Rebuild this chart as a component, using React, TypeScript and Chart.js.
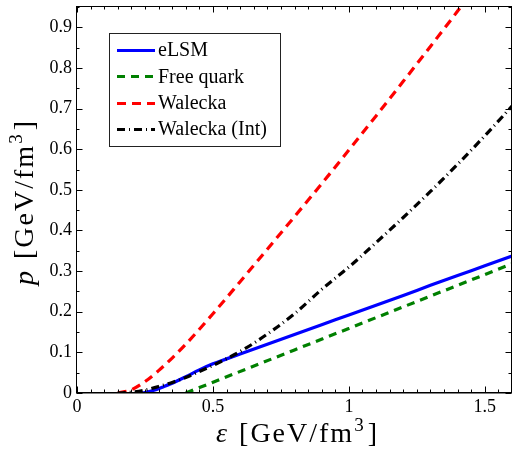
import React, { useEffect, useRef } from "react";
import Chart from "chart.js/auto";

// ---- data ----
const ELSM_X = [0.24, 0.28, 0.32, 0.36, 0.4, 0.45, 0.5, 0.55, 0.6, 0.7, 0.8, 0.9, 1.0, 1.1, 1.2, 1.3, 1.4, 1.5, 1.6];
const ELSM_Y = [0, 0.006, 0.016, 0.027, 0.04, 0.057, 0.072, 0.084, 0.096, 0.12, 0.144, 0.168, 0.192, 0.216, 0.24, 0.265, 0.289, 0.313, 0.337];

const FREE_X = [0.4, 0.8, 1.2, 1.6];
const FREE_Y = [0, 0.106, 0.212, 0.318];

const WALECKA_X = [0.15, 0.2, 0.25, 0.3, 0.35, 0.4, 0.5, 0.6, 0.7, 0.8, 0.9, 1.0, 1.1, 1.2, 1.3, 1.4, 1.45];
const WALECKA_Y = [0, 0.008, 0.028, 0.055, 0.086, 0.12, 0.195, 0.274, 0.354, 0.434, 0.515, 0.598, 0.682, 0.767, 0.853, 0.94, 0.985];

const INT_X = [0.15, 0.2, 0.25, 0.3, 0.35, 0.4, 0.45, 0.5, 0.6, 0.7, 0.8, 0.9, 1.0, 1.1, 1.2, 1.3, 1.4, 1.5, 1.6];
const INT_Y = [0, 0.002, 0.007, 0.016, 0.026, 0.038, 0.053, 0.068, 0.102, 0.145, 0.195, 0.255, 0.31, 0.37, 0.432, 0.496, 0.563, 0.633, 0.706];

const SERIES_LABELS = ["eLSM", "Free quark", "Walecka", "Walecka (Int)"];

const X_TICKS = [0, 0.5, 1, 1.5];
const X_TICK_LABELS = ["0", "0.5", "1", "1.5"];
const Y_TICKS = [0, 0.1, 0.2, 0.3, 0.4, 0.5, 0.6, 0.7, 0.8, 0.9];
const Y_TICK_LABELS = ["0", "0.1", "0.2", "0.3", "0.4", "0.5", "0.6", "0.7", "0.8", "0.9"];

const X_MIN = 0, X_MAX = 1.6, Y_MIN = 0, Y_MAX = 0.95;

const SERIF = '"Liberation Serif", "Times New Roman", serif';

function pts(xs: number[], ys: number[]) {
  return xs.map((x, i) => ({ x, y: ys[i] }));
}

type Part = { t: string; italic?: boolean; size?: number; dy?: number; gapAfter?: number; spacing?: number };

function drawParts(ctx: CanvasRenderingContext2D, parts: Part[], cx: number, baseY: number, base: number) {
  const widthOf = (p: Part) => {
    ctx.font = `${p.italic ? "italic " : ""}${p.size ?? base}px ${SERIF}`;
    let w = 0;
    for (const ch of p.t) w += ctx.measureText(ch).width + (p.spacing ?? 0);
    return w;
  };
  let total = 0;
  parts.forEach((p) => (total += widthOf(p) + (p.gapAfter ?? 0)));
  let x = cx - total / 2;
  ctx.textBaseline = "alphabetic";
  ctx.textAlign = "left";
  for (const p of parts) {
    ctx.font = `${p.italic ? "italic " : ""}${p.size ?? base}px ${SERIF}`;
    for (const ch of p.t) {
      ctx.fillText(ch, x, baseY + (p.dy ?? 0));
      x += ctx.measureText(ch).width + (p.spacing ?? 0);
    }
    x += p.gapAfter ?? 0;
  }
}

const framePlugin = {
  id: "frameTicks",
  afterDatasetsDraw(chart: any) {
    const { ctx, chartArea: a, scales } = chart;
    const xs = scales.x, ys = scales.y;
    ctx.save();
    ctx.strokeStyle = "#000";
    ctx.lineWidth = 1;
    const L = Math.round(a.left) - 0.5, R = Math.round(a.right) - 0.5;
    const T = Math.round(a.top) - 0.5, B = Math.round(a.bottom) - 0.5;
    ctx.strokeRect(L, T, R - L, B - T);
    ctx.beginPath();
    ctx.moveTo(L, B + 0.5);
    ctx.lineTo(R, B + 0.5);
    for (let i = 0; i <= 32; i++) {
      const v = i * 0.05;
      const px = Math.round(xs.getPixelForValue(v)) + 0.5;
      const len = i % 10 === 0 ? 6 : 3;
      ctx.moveTo(px, B);
      ctx.lineTo(px, B - len);
      ctx.moveTo(px, T);
      ctx.lineTo(px, T + len);
    }
    for (let i = 0; i <= 19; i++) {
      const v = i * 0.05;
      const py = Math.round(ys.getPixelForValue(v)) + 0.5;
      const len = i % 2 === 0 ? 6 : 3;
      ctx.moveTo(L, py);
      ctx.lineTo(L + len, py);
      ctx.moveTo(R, py);
      ctx.lineTo(R - len, py);
    }
    ctx.stroke();
    ctx.restore();
  },
  afterDraw(chart: any) {
    const { ctx, chartArea: a } = chart;
    ctx.save();
    ctx.fillStyle = "#000";
    // x title
    drawParts(
      ctx,
      [
        { t: "ε", italic: true, gapAfter: 12 },
        { t: "[GeV/fm", spacing: 2 },
        { t: "3", size: 19, dy: -11, gapAfter: 4 },
        { t: "]" },
      ],
      (a.left + a.right) / 2 + 2,
      442,
      28
    );
    // y title
    ctx.translate(33, (a.top + a.bottom) / 2 + 3);
    ctx.rotate(-Math.PI / 2);
    drawParts(
      ctx,
      [
        { t: "p", italic: true, gapAfter: 12 },
        { t: "[GeV/fm", spacing: 2 },
        { t: "3", size: 19, dy: -11, gapAfter: 4 },
        { t: "]" },
      ],
      0,
      0,
      28
    );
    ctx.restore();

    // legend
    ctx.save();
    const bx = 109.5, by = 33.5, bw = 171, bh = 113;
    ctx.fillStyle = "#fff";
    ctx.fillRect(bx, by, bw, bh);
    ctx.strokeStyle = "#222";
    ctx.lineWidth = 1;
    ctx.strokeRect(bx, by, bw, bh);
    const ds = chart.data.datasets;
    SERIES_LABELS.forEach((lab, i) => {
      const d = ds[i];
      const y = 50 + i * 26.3;
      ctx.beginPath();
      ctx.strokeStyle = d.borderColor;
      ctx.lineWidth = d.borderWidth;
      ctx.setLineDash(d.borderDash || []);
      ctx.moveTo(117, Math.round(y) + 0.5);
      ctx.lineTo(155, Math.round(y) + 0.5);
      ctx.stroke();
      ctx.setLineDash([]);
      ctx.fillStyle = "#000";
      ctx.font = `20px ${SERIF}`;
      ctx.textBaseline = "middle";
      ctx.textAlign = "left";
      ctx.fillText(lab, 158, y + 1);
    });
    ctx.restore();
  },
};

export default function App() {
  const ref = useRef<HTMLCanvasElement | null>(null);
  useEffect(() => {
    if (!ref.current) return;
    const common = { pointRadius: 0, borderWidth: 3.2, fill: false, cubicInterpolationMode: "monotone" as const };
    const chart = new Chart(ref.current, {
      type: "line",
      data: {
        datasets: [
          { label: SERIES_LABELS[0], data: pts(ELSM_X, ELSM_Y), borderColor: "#0000ff", borderDash: [], order: 3, ...common },
          { label: SERIES_LABELS[1], data: pts(FREE_X, FREE_Y), borderColor: "#008000", borderDash: [8, 6], order: 2, ...common },
          { label: SERIES_LABELS[2], data: pts(WALECKA_X, WALECKA_Y), borderColor: "#ff0000", borderDash: [9, 6], order: 1, ...common },
          { label: SERIES_LABELS[3], data: pts(INT_X, INT_Y), borderColor: "#000000", borderDash: [8, 4, 1, 4], order: 0, ...common },
        ],
      },
      options: {
        animation: false,
        responsive: false,
        devicePixelRatio: 1,
        layout: { padding: { top: 7, right: 0, left: 0, bottom: 0 } },
        plugins: { legend: { display: false }, tooltip: { enabled: false } },
        scales: {
          x: {
            type: "linear",
            min: X_MIN,
            max: X_MAX,
            grid: { display: false, drawTicks: false },
            border: { display: false },
            afterBuildTicks: (s: any) => {
              s.ticks = X_TICKS.map((v) => ({ value: v }));
            },
            afterFit: (s: any) => {
              s.height = 60;
              s.paddingLeft = 0;
              s.paddingRight = 0;
            },
            ticks: {
              autoSkip: false,
              maxRotation: 0,
              padding: 3,
              color: "#000",
              font: { family: SERIF, size: 18 },
              callback: (_v: any, i: number) => X_TICK_LABELS[i],
            },
          },
          y: {
            type: "linear",
            min: Y_MIN,
            max: Y_MAX,
            grid: { display: false, drawTicks: false },
            border: { display: false },
            afterBuildTicks: (s: any) => {
              s.ticks = Y_TICKS.map((v) => ({ value: v }));
            },
            afterFit: (s: any) => {
              s.width = 77;
              s.paddingTop = 0;
              s.paddingBottom = 0;
            },
            ticks: {
              autoSkip: false,
              padding: 5,
              color: "#000",
              font: { family: SERIF, size: 18 },
              callback: (_v: any, i: number) => Y_TICK_LABELS[i],
            },
          },
        },
      },
      plugins: [framePlugin],
    });
    return () => chart.destroy();
  }, []);
  return (
    <div style={{ position: "absolute", left: 0, top: 0, width: 512, height: 453, background: "#fff" }}>
      <canvas ref={ref} width={512} height={453} style={{ display: "block" }} />
    </div>
  );
}
